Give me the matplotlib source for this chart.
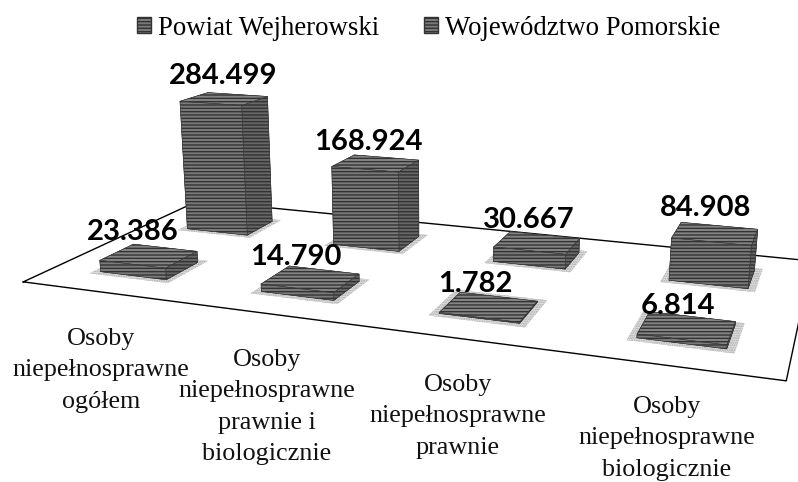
import matplotlib
matplotlib.use("Agg")
import matplotlib.pyplot as plt
from matplotlib.patches import Patch
from mpl_toolkits.mplot3d import proj3d

series_names = ["Powiat Wejherowski", "Województwo Pomorskie"]
categories = [
    "Osoby\nniepełnosprawne\nogółem",
    "Osoby\nniepełnosprawne\nprawnie i\nbiologicznie",
    "Osoby\nniepełnosprawne\nprawnie",
    "Osoby\nniepełnosprawne\nbiologicznie",
]
powiat = [23386, 14790, 1782, 6814]
wojewodztwo = [284499, 168924, 30667, 84908]
value_labels_powiat = ["23.386", "14.790", "1.782", "6.814"]
value_labels_woj = ["284.499", "168.924", "30.667", "84.908"]

W, H = 798, 482
fig = plt.figure(figsize=(W / 100, H / 100), dpi=100)

# square 3d axes, bigger than the figure in height
side = 815
cx, cy = 417, 253
ax = fig.add_axes(
    [(cx - side / 2) / W, (H - cy - side / 2) / H, side / W, side / H],
    projection="3d",
)
ax.patch.set_alpha(0)
ax.set_proj_type("persp", focal_length=0.278)
ax.view_init(elev=16.5, azim=-70)
ax.set_box_aspect((2.15, 1, 0.79), zoom=1.0)
ax.set_xlim(0, 4, view_margin=0)
ax.set_ylim(0, 2, view_margin=0)
ax.set_zlim(-200000, 320000, view_margin=0)
ax.set_axis_off()
ax.computed_zorder = False

# floor outline
ax.plot([0, 4, 4, 0, 0], [0, 0, 2, 2, 0], [0, 0, 0, 0, 0], color="black", lw=1.0, zorder=1)

bar_w = 0.42
bar_d = 0.36
gray = "#7a7a7a"
# faces: bottom, top, front, back, left, right
face_colors = ["#7a7a7a", "#858585", "#7a7a7a", "#7a7a7a", "#7a7a7a", "#666666"]
for j, vals in enumerate([powiat, wojewodztwo]):
    for i, v in enumerate(vals):
        x0 = i + 0.5 - bar_w / 2
        y0 = j + 0.5 - bar_d / 2
        # soft shadow on the floor
        ax.bar3d(x0 - 0.04, y0 - 0.05, 0, bar_w + 0.08, bar_d + 0.1, 1, color="#e4e4e4",
                 edgecolor="#a8a8a8", hatch=".......", shade=False, linewidth=0, zorder=2)
        ax.bar3d(x0, y0, 0, bar_w, bar_d, v, color=face_colors, shade=False, edgecolor="#333333",
                 linewidth=0.4, hatch="-----", zorder=5 + 5 * (1 - j))

# pixel shifts of the value labels, the Excel chart places them by hand
offset_powiat = [(-16, 11), (-15, 9), (-14, 10), (-9, 9)]
offset_woj = [(-1, 10), (-7, 8), (-8, 10), (-10, 13)]

proj = ax.get_proj()
for j, (vals, labs, offs) in enumerate([(powiat, value_labels_powiat, offset_powiat),
                                        (wojewodztwo, value_labels_woj, offset_woj)]):
    for i, v in enumerate(vals):
        px, py, _ = proj3d.proj_transform(i + 0.5, j + 0.5, v, proj)
        dx, dy = offs[i]
        ax.annotate(labs[i], (px, py), xytext=(dx * 0.72, dy * 0.72), textcoords="offset points",
                    family="Lato", weight="bold", fontsize=21, ha="center", va="bottom",
                    color="black", zorder=100, annotation_clip=False)

label_x = [101, 267, 458, 667]
label_y = [328, 349, 374, 396]
for s, x, y in zip(categories, label_x, label_y):
    fig.text(x / W, 1 - y / H, s, family="Liberation Serif", fontsize=18.8, ha="center", va="top",
             linespacing=1.55, color="#111111")

handles = [Patch(facecolor=gray, edgecolor="#333333", hatch="-----") for _ in series_names]
fig.legend(handles, series_names, loc="upper center", bbox_to_anchor=(0.537, 1.012), ncol=2, frameon=False,
           prop={"family": "Liberation Serif", "size": 19.3}, handlelength=0.55, handleheight=0.55,
           handletextpad=0.25, columnspacing=1.65, borderpad=0.3)

fig.savefig("out.png", dpi=100)
